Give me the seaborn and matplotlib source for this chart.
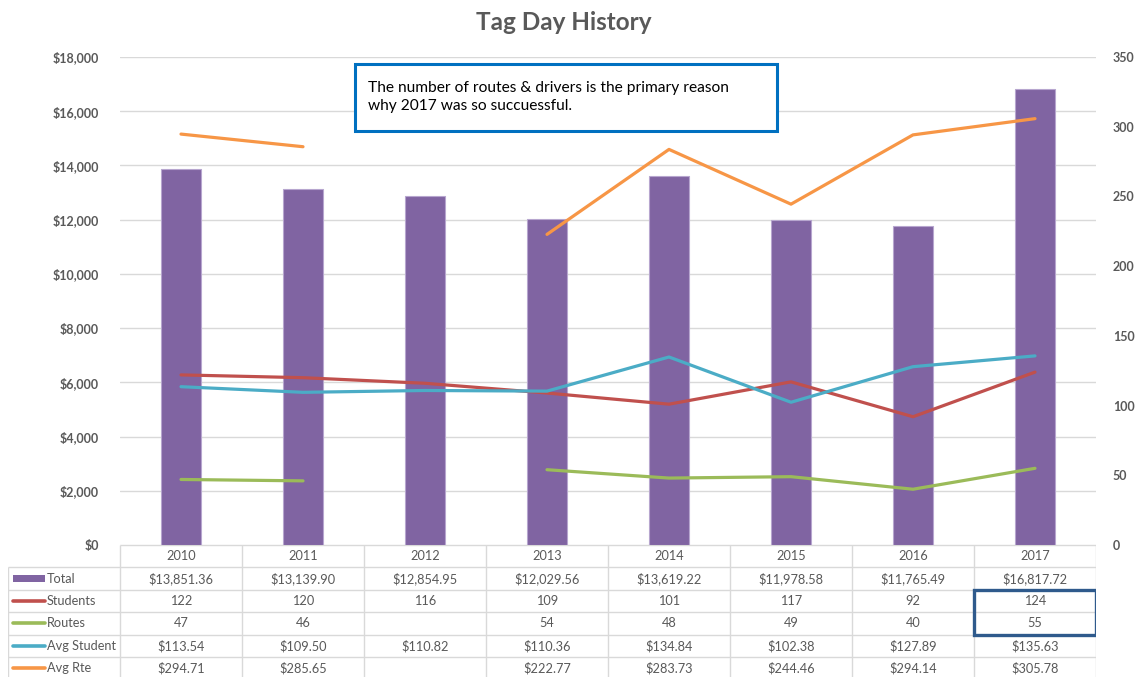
import numpy as np
import pandas as pd
import matplotlib
matplotlib.use("Agg")
import matplotlib.pyplot as plt
from matplotlib.patches import Rectangle
from matplotlib.ticker import FuncFormatter, MultipleLocator
import seaborn as sns

years = ["2010", "2011", "2012", "2013", "2014", "2015", "2016", "2017"]
total = [13851.36, 13139.90, 12854.95, 12029.56, 13619.22, 11978.58, 11765.49, 16817.72]
students = [122, 120, 116, 109, 101, 117, 92, 124]
routes = [47, 46, np.nan, 54, 48, 49, 40, 55]
avg_student = [113.54, 109.50, 110.82, 110.36, 134.84, 102.38, 127.89, 135.63]
avg_rte = [294.71, 285.65, np.nan, 222.77, 283.73, 244.46, 294.14, 305.78]

title = "Tag Day History"
note = "The number of routes & drivers is the primary reason\nwhy 2017 was so succuessful."

C_TOTAL = "#8064A2"
C_STUD = "#C0504D"
C_ROUTE = "#9BBB59"
C_AVGS = "#4BACC6"
C_AVGR = "#F79646"
GRID = "#D9D9D9"
TXT = "#595959"

sns.set_theme(style="white")
plt.rcParams["font.family"] = ["Lato", "DejaVu Sans"]

W, H = 1136, 677
fig = plt.figure(figsize=(W / 100, H / 100), dpi=100)

def fx(px):
    return px / W

def fy(py):
    return 1 - py / H

# main plot area
x0, x1 = 120, 1096
ytop, ybot = 57, 545
ax = fig.add_axes([fx(x0), fy(ybot), fx(x1) - fx(x0), fy(ytop) - fy(ybot)])

df = pd.DataFrame({"year": years, "total": total})
sns.barplot(data=df, x="year", y="total", ax=ax, color=C_TOTAL, width=0.32,
            saturation=1, edgecolor="#B7A6CF", linewidth=0.8)
ax.set_ylim(0, 18000)
ax.yaxis.set_major_locator(MultipleLocator(2000))
ax.yaxis.set_major_formatter(FuncFormatter(lambda v, p: f"${v:,.0f}"))
ax.grid(axis="y", color=GRID, linewidth=1)
ax.set_axisbelow(True)
for s in ax.spines.values():
    s.set_visible(False)
ax.set_xlabel("")
ax.set_ylabel("")
ax.set_xticklabels([])
ax.tick_params(axis="x", length=0)
ax.tick_params(axis="y", length=0, pad=15, labelsize=9, labelcolor=TXT)
for t in ax.get_yticklabels():
    t.set_fontweight("bold")

ax2 = ax.twinx()
idx = np.arange(len(years))

def draw_series(vals, color):
    vals = np.asarray(vals, dtype=float)
    ok = ~np.isnan(vals)
    seg = []
    for i in range(len(vals)):
        if ok[i]:
            seg.append(i)
        else:
            if len(seg) > 1:
                sns.lineplot(x=idx[seg], y=vals[seg], ax=ax2, color=color, linewidth=2.3, legend=False)
            seg = []
    if len(seg) > 1:
        sns.lineplot(x=idx[seg], y=vals[seg], ax=ax2, color=color, linewidth=2.3, legend=False)

draw_series(students, C_STUD)
draw_series(routes, C_ROUTE)
draw_series(avg_student, C_AVGS)
draw_series(avg_rte, C_AVGR)
ax2.set_ylim(0, 350)
ax2.yaxis.set_major_locator(MultipleLocator(50))
ax2.set_xlim(-0.5, len(years) - 0.5)
ax.set_xlim(-0.5, len(years) - 0.5)
for s in ax2.spines.values():
    s.set_visible(False)
ax2.grid(False)
ax2.set_ylabel("")
ax2.tick_params(axis="y", length=0, pad=12, labelsize=9, labelcolor=TXT)
for t in ax2.get_yticklabels():
    t.set_fontweight("bold")

# data table
n = len(years)
row_h = 22.4
tab_top = 545
nrows_vis = (H - tab_top) / row_h
lab_w = (120 - 8) / 122.0
tx = fig.add_axes([fx(8), 0, fx(x1) - fx(8), fy(tab_top)])
tx.set_xlim(-0.5 - lab_w, n - 0.5)
tx.set_ylim(nrows_vis, 0)
tx.axis("off")
left = -0.5 - lab_w
lw = 1.0
tx.hlines(0, -0.5, n - 0.5, color=GRID, lw=lw)
for r in range(1, 6):
    tx.hlines(r, left, n - 0.5, color=GRID, lw=lw)
tx.vlines(left, 1, nrows_vis, color=GRID, lw=lw)
for k in range(n + 1):
    tx.vlines(-0.5 + k, 0, nrows_vis, color=GRID, lw=lw)

fs = 9.2
for i, y in enumerate(years):
    tx.text(i, 0.5, y, ha="center", va="center", fontsize=fs, color=TXT)

def money(v):
    return "" if np.isnan(v) else f"${v:,.2f}"

def num(v):
    return "" if np.isnan(v) else f"{int(v)}"

rows = [
    ("Total", [money(v) for v in total], C_TOTAL, "bar"),
    ("Students", [num(v) for v in students], C_STUD, "line"),
    ("Routes", [num(v) for v in np.asarray(routes, float)], C_ROUTE, "line"),
    ("Avg Student", [money(v) for v in avg_student], C_AVGS, "line"),
    ("Avg Rte", [money(v) for v in np.asarray(avg_rte, float)], C_AVGR, "line"),
]
unit = 122.0
for r, (name, cells, col, kind) in enumerate(rows, start=1):
    yc = r + 0.5
    kx0 = left + 5 / unit
    kx1 = left + 37 / unit
    if kind == "bar":
        tx.add_patch(Rectangle((kx0, yc - 0.14), kx1 - kx0, 0.28, color=col, lw=0))
    else:
        tx.plot([kx0, kx1], [yc, yc], color=col, lw=2.6, solid_capstyle="round")
    tx.text(left + 39 / unit, yc, name, ha="left", va="center", fontsize=fs, color=TXT)
    for i, c in enumerate(cells):
        tx.text(i, yc, c, ha="center", va="center", fontsize=fs, color=TXT)

tx.add_patch(Rectangle((n - 1.5, 2), 1, 2, fill=False, edgecolor="#2F5A8C", lw=2.4, zorder=5))

# title
fig.text(0.496, fy(22), title, ha="center", va="center", fontsize=17.5, fontweight="bold", color=TXT)

# annotation box
fig.add_artist(Rectangle((fx(355), fy(131)), fx(777) - fx(355), fy(64) - fy(131),
                         transform=fig.transFigure, fill=True, facecolor="white",
                         edgecolor="#0070C0", lw=2.2, zorder=10))
fig.text(fx(368), fy(97), note, ha="left", va="center", fontsize=11.2, color="black",
         linespacing=1.35, zorder=11)

fig.savefig("out.png", dpi=100)
